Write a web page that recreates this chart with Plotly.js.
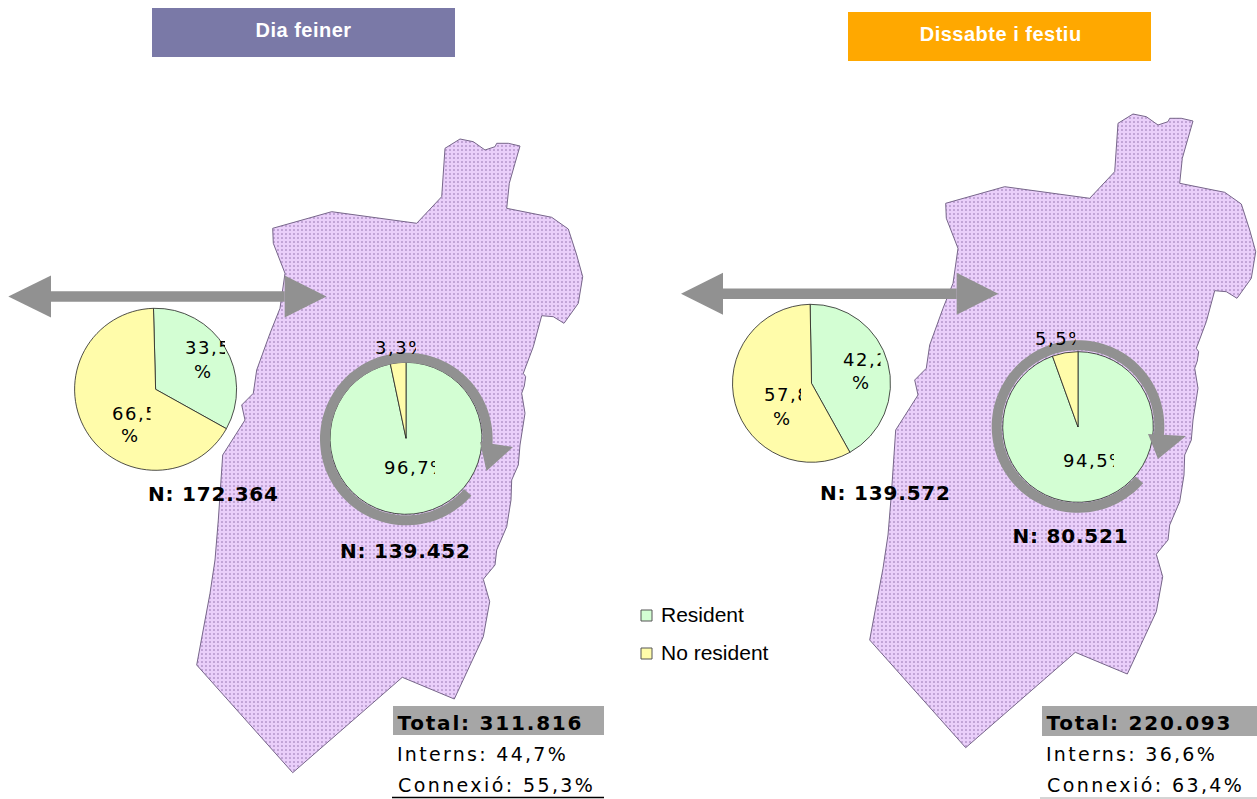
<!DOCTYPE html>
<html><head><meta charset="utf-8">
<script src="https://cdn.plot.ly/plotly-3.0.1.min.js"></script>
<style>html,body{margin:0;padding:0;background:#fff}#g{width:1257px;height:799px}</style>
</head><body><div id="g"></div>
<script>
const W=1257,H=799;
const categories=['Resident','No resident'];
const colors=['#D3FED3','#FFFCAA'];
const pieValues=[[33.5,66.5],[96.7,3.3],[42.2,57.8],[94.5,5.5]];
const pieCx=[155.6,406,811.5,1078];
const pieCy=[389.3,438.3,383.3,427];
const pieR=[81,76,79,75.3];
const pieRot=[-1.5,0,-1,0];
// map outline
const mapX=[445,460,473.3,485,495,496.7,508.3,520,515,509.3,506.7,551.7,568.3,576.7,582.7,578.3,564,553.3,541.7,533.3,523.3,525.7,524.3,521.7,525,520,518.3,511.7,511,506.7,496.7,495,486.7,483.3,489.7,483.3,454.3,402.3,292.7,196.7,210,215,218.3,221.7,222.7,245,241.7,253.3,256.7,270,280,285,273.3,272.7,331.7,416.7,441.7,445];
const mapY=[148.3,139,141.7,150,146.7,143.3,143.3,146,163.3,183.3,208.3,217.3,229,255,276.7,303.3,323.3,316.7,315.7,346.7,373.3,376.7,386,393.3,413.3,445,465,480,500,526.7,550,565,575,579.3,601.7,636.7,699,677.3,772.7,665,593.3,560,520,460,455,420,405,393.3,370,333.3,308.3,273.3,243.3,228.3,211.7,223.3,196.7,148.3];
const mapOffsetX=[0,673],mapOffsetY=[0,-25];
// texts
const titles=['Dia feiner','Dissabte i festiu'];
const nLabels=['N: 172.364','N: 139.452','N: 139.572','N: 80.521'];
const nX=[213,405.4,885.4,1070],nY=[494,551,492.7,535.7];
const totals=['Total: 311.816','Total: 220.093'];
const interns=['Interns: 44,7%','Interns: 36,6%'];
const connexio=['Connexió: 55,3%','Connexió: 63,4%'];
const totalX=[409,1058],internsX=[412,1061],connexioX=[414.5,1064];
// percentage labels: text, left, clip width, y centre
const pctText=['33,5','%','66,5','%','3,3%','96,7%','42,2','%','57,8','%','5,5%','94,5%'];
const pctX=[184,202.7,110.8,129,374.3,383.3,841.8,860.7,762.8,781,1034.3,1061.6];
const pctW=[40,0,38.5,0,41,51,37.5,0,37,0,40.5,51];
const pctY=[347,371.7,412.7,435.7,347,466.7,359,382.7,394,418.3,337.7,460];

const grey='#919191';
const traces=[];
mapOffsetX.forEach((dx,i)=>{
  traces.push({type:'scatter',mode:'lines',x:mapX.map(v=>v+dx),y:mapY.map(v=>v+mapOffsetY[i]),fill:'toself',
    fillcolor:'#EACFFA',fillpattern:{shape:'.',bgcolor:'#EACFFA',fgcolor:'#8A6AA6',size:4,solidity:0.12,fillmode:'replace'},
    line:{color:'#77668A',width:1},hoverinfo:'skip',showlegend:false});
});
pieValues.forEach((v,i)=>{
  traces.push({type:'pie',labels:categories,values:v,sort:false,direction:'clockwise',rotation:pieRot[i],
    marker:{colors:colors,line:{color:'#222',width:0.8}},textinfo:'none',hoverinfo:'label+percent',showlegend:false,
    domain:{x:[(pieCx[i]-pieR[i])/W,(pieCx[i]+pieR[i])/W],y:[1-(pieCy[i]+pieR[i])/H,1-(pieCy[i]-pieR[i])/H]}});
});
const shapes=[];
function rect(x0,y0,x1,y1,fill,line){shapes.push({type:'rect',xref:'x',yref:'y',x0,y0,x1,y1,fillcolor:fill,line:line||{width:0},layer:'above'});}
function path(d,fill){shapes.push({type:'path',xref:'x',yref:'y',path:d,fillcolor:fill,line:{width:0},layer:'above'});}
rect(152,8,455,57,'#7A79A7');
rect(848,12,1151,61,'#FFA800');
[[8.3,51,284.7,326.5,296.5],[681,723,956.7,998.3,293.8]].forEach(a=>{
  const [t0,b0,b1,t1,y]=a;
  rect(b0,y-5.3,b1,y+5.3,grey);
  path(`M${t0},${y}L${b0},${y-21}L${b0},${y+21}Z`,grey);
  path(`M${t1},${y}L${b1},${y-21}L${b1},${y+21}Z`,grey);
});
[[406.3,439,[[480,442],[513,447],[486.5,471]]],[1078,426.5,[[1148,434],[1186,436],[1158,459]]]].forEach(c=>{
  const [cx,cy,tri]=c; let d='';
  for(let a=41;a<=368;a+=3){const r=a*Math.PI/180;d+=(d?'L':'M')+(cx+81.3*Math.cos(r)).toFixed(1)+','+(cy+81.3*Math.sin(r)).toFixed(1);}
  shapes.push({type:'path',xref:'x',yref:'y',path:d,line:{color:grey,width:10},fillcolor:'rgba(0,0,0,0)',layer:'above'});
  path('M'+tri.map(p=>p.join(',')).join('L')+'Z',grey);
});
rect(393,706,604,735,'#A6A6A6');
rect(1042,706,1257,736,'#A6A6A6');
shapes.push({type:'line',xref:'x',yref:'y',x0:392,x1:604,y0:797.5,y1:797.5,line:{color:'#000',width:1.5},layer:'above'});
shapes.push({type:'line',xref:'x',yref:'y',x0:1040,x1:1257,y0:798,y1:798,line:{color:'#aaa',width:1},layer:'above'});
rect(641,610,652,621,colors[0],{color:'#555',width:1});
rect(641,648,652,659,colors[1],{color:'#555',width:1});

const ann=[];let css='';
function t(text,x,y,o,ls){
  if(ls) css+=`g.annotation[data-index="${ann.length}"] text{letter-spacing:${ls}px}\n`;
  ann.push(Object.assign({text,x,y,xref:'x',yref:'y',showarrow:false,xanchor:'left',yanchor:'middle',borderpad:0,font:{family:'DejaVu Sans',size:19,color:'#000'}},o||{}));
}
const titleFont={family:'Liberation Sans',size:20,color:'#fff',weight:700};
t(titles[0],303,30,{xanchor:'center',font:titleFont},0.5);
t(titles[1],1000,34,{xanchor:'center',font:titleFont},0.5);
const boldFont={family:'DejaVu Sans',size:20,color:'#000',weight:700};
nLabels.forEach((s,i)=>t(s,nX[i],nY[i],{xanchor:'center',font:boldFont},0.8));
totals.forEach((s,i)=>t(s,totalX[i],722.5,{font:boldFont},1.8));
interns.forEach((s,i)=>t(s,internsX[i],754,{},2.3));
connexio.forEach((s,i)=>t(s,connexioX[i],785,{},2.4));
const pctFont={family:'DejaVu Sans',size:18,color:'#000'};
pctText.forEach((s,i)=>{
  if(pctW[i]>0) t(s,pctX[i],pctY[i],{width:pctW[i],height:24,align:'left',font:pctFont},1.5);
  else t(s,pctX[i],pctY[i],{xanchor:'center',font:pctFont});
});
const legFont={family:'Liberation Sans',size:21,color:'#000'};
t(categories[0],660,614,{font:legFont});
t(categories[1],660,652,{font:legFont});
const st=document.createElement('style');st.textContent=css;document.head.appendChild(st);

Plotly.newPlot('g',traces,{width:W,height:H,margin:{l:0,r:0,t:0,b:0},paper_bgcolor:'#fff',plot_bgcolor:'#fff',showlegend:false,
  xaxis:{range:[0,W],visible:false,fixedrange:true},yaxis:{range:[H,0],visible:false,fixedrange:true},shapes,annotations:ann},{displayModeBar:false});
</script></body></html>
